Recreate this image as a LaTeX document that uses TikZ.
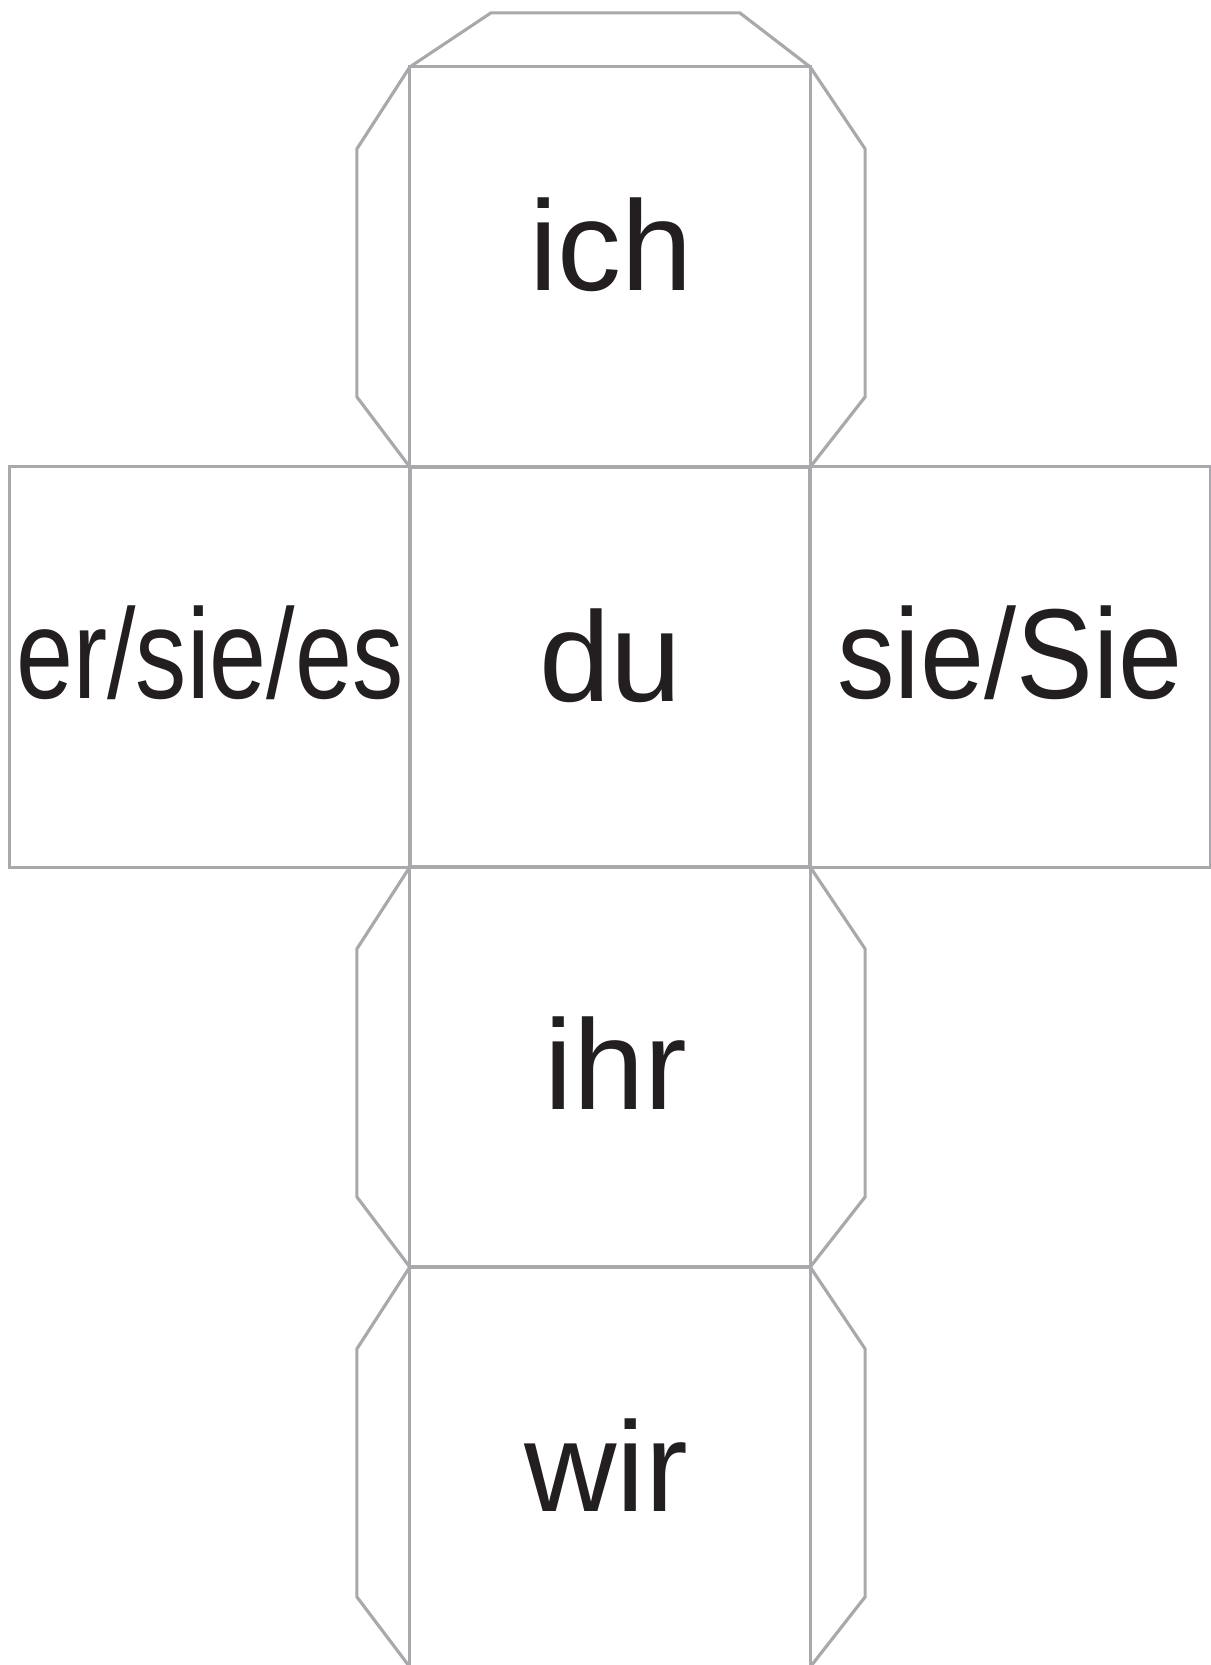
\documentclass[tikz,border=0pt]{standalone}
\usepackage{fontspec}
\setmainfont{Liberation Sans}
\usepackage{xcolor}
\definecolor{netgray}{RGB}{167,169,172}
\definecolor{inkblack}{RGB}{35,31,32}

\begin{document}
\begin{tikzpicture}[x=0.01cm, y=-0.01cm]
    \tikzstyle{face} = [rectangle, draw=netgray, line width=0.9pt, inner sep=0pt, outer sep=0pt, minimum size=4cm]
    \tikzstyle{flap} = [draw=netgray, line width=0.9pt]
    \tikzstyle{word} = [anchor=base, inner sep=0pt, text=inkblack, font=\fontsize{36.4}{40}\selectfont]
    \useasboundingbox (0,0) rectangle (1211,1665);
    % faces of the net
    \node[face] (ich) at (610,267) {}; \node[face] (du) at (610,667) {};
    \node[face] (ersiees) at (210,667) {}; \node[face] (siesie) at (1010,667) {};
    \node[face] (ihr) at (610,1067) {}; \node[face] (wir) at (610,1467) {};
    % glue flaps
    \draw[flap] (ich.north west) -- ++(81,-54) -- ++(249,0) -- (ich.north east);
    \foreach \f in {ich, ihr, wir} {
        \draw[flap] (\f.north west) -- ++(-53,82) -- ++(0,248) -- (\f.south west);
        \draw[flap] (\f.north east) -- ++(55,82) -- ++(0,248) -- (\f.south east);
    }
    % pronouns
    \node[word] (tich) at (611,290) {ich}; \node[word] (tdu) at (611,701) {du};
    \node[word] (tersiees) at (210,698) {\scalebox{0.8}[1]{er/sie/es}};
    \node[word] (tsiesie) at (1010,698) {\scalebox{0.9}[1]{sie/Sie}};
    \node[word] (tihr) at (616,1109) {ihr}; \node[word] (twir) at (606,1511) {wir};
\end{tikzpicture}
\end{document}
